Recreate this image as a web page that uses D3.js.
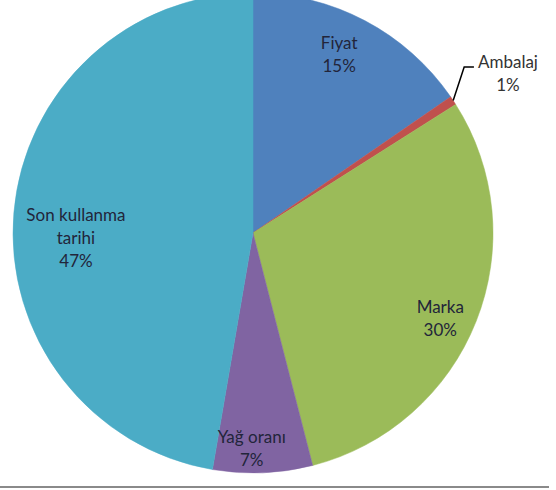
<!DOCTYPE html>
<html>
<head>
<meta charset="utf-8">
<script src="https://cdn.jsdelivr.net/npm/d3@7"></script>
<style>
  html, body { margin: 0; padding: 0; background: #fff; }
  svg { display: block; }
  .lbl { font-family: Lato, "Open Sans", sans-serif; font-size: 17px; fill: #22253a; }
</style>
</head>
<body>
<svg id="chart" width="556" height="490"></svg>
<script>
// Data (share of answers, %)
var categories = ['Fiyat', 'Ambalaj', 'Marka', 'Yağ oranı', 'Son kullanma tarihi'];
var values     = [15.4, 0.6, 30.0, 6.7, 47.3];
var labelLines = [['Fiyat'], ['Ambalaj'], ['Marka'], ['Yağ oranı'], ['Son kullanma', 'tarihi']];

// Office palette
var colors = ['#4f81bd', '#c0504d', '#9bbb59', '#8064a2', '#4bacc6'];
// label placement: fraction of radius, and a small turn off the slice middle (radians)
var labelRadius = [0.824, 1.254, 0.858, 0.896, 0.738];
var labelTurn   = [-0.033, 0.024, 0.052, 0.047, -0.113];

var W = 556, H = 490, cx = 253, cy = 233, R = 240;
var svg = d3.select('#chart');
var g = svg.append('g').attr('transform', 'translate(' + cx + ',' + cy + ')');

var pie = d3.pie().sort(null).value(function(d) { return d.v; });
var arcs = pie(values.map(function(v, i) { return { v: v, i: i }; }));
var arc = d3.arc().innerRadius(0).outerRadius(R);

g.selectAll('path.slice').data(arcs).enter().append('path')
  .attr('class', 'slice')
  .attr('d', arc)
  .attr('fill', function(d) { return colors[d.data.i]; })
  .attr('stroke', function(d) { return colors[d.data.i]; })
  .attr('stroke-width', 0.5);

var total = d3.sum(values);
var pct = d3.format('.0%');

function labelPos(d) {
  var a = (d.startAngle + d.endAngle) / 2 + labelTurn[d.data.i];
  var r = R * labelRadius[d.data.i];
  return [Math.sin(a) * r, -Math.cos(a) * r];
}

var lab = g.selectAll('text.lbl').data(arcs).enter().append('text')
  .attr('class', 'lbl')
  .attr('text-anchor', 'middle')
  .style('fill', function(d) { return d.data.i === 1 ? '#333' : null; })
  .attr('transform', function(d) { var p = labelPos(d); return 'translate(' + p[0] + ',' + p[1] + ')'; });

lab.each(function(d) {
  var t = d3.select(this);
  var lines = labelLines[d.data.i].concat([pct(d.data.v / total)]);
  var n = lines.length;
  lines.forEach(function(s, k) {
    t.append('tspan').attr('x', 0).attr('y', (k - (n - 1) / 2) * 23 + 6).text(s);
  });
});

// leader line for the tiny slice
var amb = arcs[1];
var aMid = (amb.startAngle + amb.endAngle) / 2;
var p0 = [Math.sin(aMid) * R, -Math.cos(aMid) * R];
var pl = labelPos(amb);
g.append('polyline')
  .attr('points', [p0, [p0[0] + 11, pl[1] - 6], [pl[0] - 34, pl[1] - 6]].map(function(p) { return p.join(','); }).join(' '))
  .attr('fill', 'none').attr('stroke', '#000').attr('stroke-width', 1.5);

// frame line at the bottom
svg.append('line').attr('x1', 0).attr('x2', 549).attr('y1', 487).attr('y2', 487)
  .attr('stroke', '#8a8a8a').attr('stroke-width', 2);
</script>
</body>
</html>
